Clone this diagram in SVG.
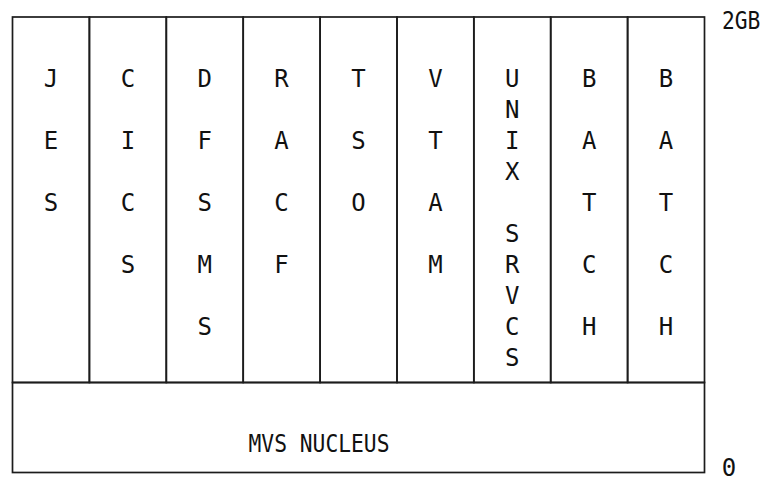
<svg xmlns="http://www.w3.org/2000/svg" width="764" height="482" viewBox="0 0 764 482">
  <style>
    .cell { fill: none; stroke: #1c1c1c; stroke-width: 1.7; }
    .lbl { font-family: "DejaVu Sans Mono", "Liberation Mono", monospace; font-size: 24px; fill: #111; text-anchor: middle; }
    .side { font-family: "DejaVu Sans Mono", "Liberation Mono", monospace; font-size: 24px; fill: #111; }
  </style>
  <rect width="764" height="482" fill="#ffffff"/>

  <!-- address-space columns, each a tall cell with a vertical name -->
  <g id="jes">
    <rect class="cell" x="12.5" y="17" width="76.9" height="365.5"/>
    <text class="lbl" x="51" y="87">J</text>
    <text class="lbl" x="51" y="149">E</text>
    <text class="lbl" x="51" y="211">S</text>
  </g>
  <g id="cics">
    <rect class="cell" x="89.4" y="17" width="76.9" height="365.5"/>
    <text class="lbl" x="127.9" y="87">C</text>
    <text class="lbl" x="127.9" y="149">I</text>
    <text class="lbl" x="127.9" y="211">C</text>
    <text class="lbl" x="127.9" y="273">S</text>
  </g>
  <g id="dfsms">
    <rect class="cell" x="166.3" y="17" width="76.9" height="365.5"/>
    <text class="lbl" x="204.7" y="87">D</text>
    <text class="lbl" x="204.7" y="149">F</text>
    <text class="lbl" x="204.7" y="211">S</text>
    <text class="lbl" x="204.7" y="273">M</text>
    <text class="lbl" x="204.7" y="335">S</text>
  </g>
  <g id="racf">
    <rect class="cell" x="243.2" y="17" width="76.9" height="365.5"/>
    <text class="lbl" x="281.6" y="87">R</text>
    <text class="lbl" x="281.6" y="149">A</text>
    <text class="lbl" x="281.6" y="211">C</text>
    <text class="lbl" x="281.6" y="273">F</text>
  </g>
  <g id="tso">
    <rect class="cell" x="320.1" y="17" width="76.9" height="365.5"/>
    <text class="lbl" x="358.5" y="87">T</text>
    <text class="lbl" x="358.5" y="149">S</text>
    <text class="lbl" x="358.5" y="211">O</text>
  </g>
  <g id="vtam">
    <rect class="cell" x="397" y="17" width="76.9" height="365.5"/>
    <text class="lbl" x="435.4" y="87">V</text>
    <text class="lbl" x="435.4" y="149">T</text>
    <text class="lbl" x="435.4" y="211">A</text>
    <text class="lbl" x="435.4" y="273">M</text>
  </g>
  <g id="unix-srvcs">
    <rect class="cell" x="473.8" y="17" width="76.9" height="365.5"/>
    <text class="lbl" x="512.3" y="87">U</text>
    <text class="lbl" x="512.3" y="118">N</text>
    <text class="lbl" x="512.3" y="149">I</text>
    <text class="lbl" x="512.3" y="180">X</text>
    <text class="lbl" x="512.3" y="242">S</text>
    <text class="lbl" x="512.3" y="273">R</text>
    <text class="lbl" x="512.3" y="304">V</text>
    <text class="lbl" x="512.3" y="335">C</text>
    <text class="lbl" x="512.3" y="366">S</text>
  </g>
  <g id="batch-1">
    <rect class="cell" x="550.7" y="17" width="76.9" height="365.5"/>
    <text class="lbl" x="589.2" y="87">B</text>
    <text class="lbl" x="589.2" y="149">A</text>
    <text class="lbl" x="589.2" y="211">T</text>
    <text class="lbl" x="589.2" y="273">C</text>
    <text class="lbl" x="589.2" y="335">H</text>
  </g>
  <g id="batch-2">
    <rect class="cell" x="627.6" y="17" width="76.9" height="365.5"/>
    <text class="lbl" x="666.1" y="87">B</text>
    <text class="lbl" x="666.1" y="149">A</text>
    <text class="lbl" x="666.1" y="211">T</text>
    <text class="lbl" x="666.1" y="273">C</text>
    <text class="lbl" x="666.1" y="335">H</text>
  </g>

  <!-- nucleus band along the bottom -->
  <g id="mvs-nucleus">
    <rect class="cell" x="12.5" y="382.5" width="692" height="90"/>
    <text class="side" x="248.5" y="451.5" textLength="141" lengthAdjust="spacingAndGlyphs">MVS NUCLEUS</text>
  </g>

  <!-- address range markers -->
  <g id="range">
    <text class="side" x="722" y="29" textLength="38.4" lengthAdjust="spacingAndGlyphs">2GB</text>
    <text class="lbl" x="729" y="476">0</text>
  </g>

  <g id="connectors"/>
</svg>
